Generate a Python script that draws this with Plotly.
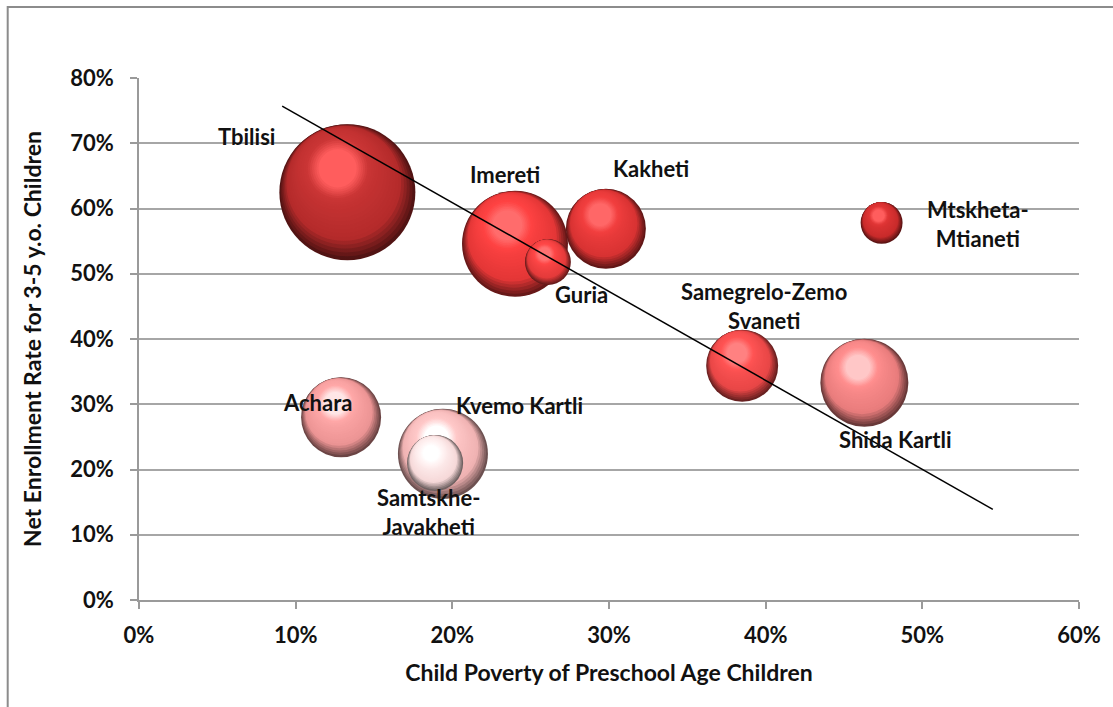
import math
import plotly.graph_objects as go

# Regional data: child poverty (x), net enrollment 3-5 y.o. (y), relative bubble size
regions = ["Tbilisi", "Imereti", "Kvemo Kartli", "Shida Kartli", "Kakheti",
           "Achara", "Samegrelo-Zemo<br>Svaneti", "Samtskhe-<br>Javakheti",
           "Guria", "Mtskheta-<br>Mtianeti"]
poverty = [0.133, 0.240, 0.194, 0.463, 0.298, 0.129, 0.385, 0.189, 0.261, 0.474]
enrollment = [0.625, 0.546, 0.224, 0.333, 0.569, 0.280, 0.359, 0.210, 0.518, 0.578]
bubble_size = [100, 60.7, 43.8, 41.9, 34.6, 34.6, 28.0, 17.0, 11.4, 9.5]

# Linear trend line end points
trend_x = [0.0914, 0.545]
trend_y = [0.757, 0.139]

# Base colour of each sphere
body_col = ["#b42a2a", "#e43636", "#f0b2b2", "#e87c7c", "#d83232",
            "#ec9494", "#e84646", "#f6d8d8", "#e43a3a", "#c82a2a"]

# Label offsets in pixels (x right, y up) from each bubble centre
label_shift = [(-101, 56), (-10, 69), (77, 48), (31, -57), (45, 60),
               (-24, 15), (22, 60), (-7, -49), (34, -32), (96, -1)]

W, H = 1113, 707
ML, MR, MT, MB = 139, 29, 78, 107
PW, PH = W - ML - MR, H - MT - MB
X_RANGE = (0, 0.6)
Y_RANGE = (0, 0.8)
MAX_D = 136
sizeref = 2 * max(bubble_size) / MAX_D ** 2

px_per_x = PW / (X_RANGE[1] - X_RANGE[0])
px_per_y = PH / (Y_RANGE[1] - Y_RANGE[0])


def hex_rgb(h):
    h = h.lstrip("#")
    return [int(h[i:i + 2], 16) for i in (0, 2, 4)]


def mix(a, b, f):
    return [a[i] + (b[i] - a[i]) * f for i in range(3)]


def brighten(c, gain, lift):
    return [min(255, v * gain + lift) for v in c]


def css(c):
    return "rgb(%d,%d,%d)" % tuple(max(0, min(255, round(v))) for v in c)


def shade_at(body, t):
    """Colour of a sphere shell at depth t (0 = rim, 1 = specular spot)."""
    dark = [v * 0.45 for v in body]
    lite = brighten(body, 1.08, 8)
    spot = brighten(body, 1.3, 38)
    stops = [(0.0, dark), (0.22, body), (0.75, lite), (1.0, spot)]
    for (t0, c0), (t1, c1) in zip(stops, stops[1:]):
        if t <= t1:
            return mix(c0, c1, (t - t0) / (t1 - t0))
    return spot


# Light comes from the upper left
LIGHT = (-0.38, 0.92)
N_SHELLS = 24

fig = go.Figure()

# Each sphere is built from nested shells that shrink toward the light source
for i in range(len(regions)):
    body = hex_rgb(body_col[i])
    r_px = math.sqrt(bubble_size[i] / (2 * sizeref))
    for k in range(N_SHELLS):
        t = k / (N_SHELLS - 1)
        t_next = min(1.0, (k + 1) / (N_SHELLS - 1))
        scale = 1 - 0.72 * t
        off = 0.38 * r_px * min(1.0, 1.7 * t)
        sx = poverty[i] + LIGHT[0] * off / px_per_x
        sy = enrollment[i] + LIGHT[1] * off / px_per_y
        fig.add_trace(go.Scatter(
            x=[sx], y=[sy], mode="markers",
            marker=dict(size=[bubble_size[i] * scale ** 2], sizemode="area",
                        sizeref=sizeref, opacity=1, line=dict(width=0),
                        color=css(shade_at(body, t)),
                        gradient=dict(type="radial",
                                      color=css(shade_at(body, t_next)))),
            hoverinfo="skip", showlegend=False))

# Trend line
fig.add_trace(go.Scatter(x=trend_x, y=trend_y, mode="lines",
                         line=dict(color="black", width=1.5),
                         hoverinfo="skip", showlegend=False))

label_font = dict(family="Lato", size=22, color="#111111")
for i, name in enumerate(regions):
    dx, dy = label_shift[i]
    fig.add_annotation(x=poverty[i], y=enrollment[i], text="<b>%s</b>" % name,
                       showarrow=False, xshift=dx, yshift=dy, font=label_font,
                       align="center")

# Outer chart frame
fig.add_shape(type="rect", xref="paper", yref="paper",
              x0=(7 - ML) / PW, x1=(W + 20 - ML) / PW,
              y0=-(H + 20 - MT - PH) / PH, y1=(H - 7 - MB) / PH,
              line=dict(color="#8c8c8c", width=2), fillcolor="rgba(0,0,0,0)",
              layer="below")

tick_font = dict(family="Lato", size=22, color="#111111")
title_font = dict(family="Lato", size=23, color="#111111")

fig.update_layout(
    width=W, height=H,
    margin=dict(l=ML, r=MR, t=MT, b=MB),
    paper_bgcolor="white", plot_bgcolor="white",
    font=dict(family="Lato"),
    xaxis=dict(range=X_RANGE, dtick=0.1, tickformat=".0%", showgrid=False,
               zeroline=False, showline=True, linecolor="#9a9a9a", linewidth=1.5,
               ticks="outside", ticklen=7, tickcolor="#9a9a9a", tickwidth=1.5,
               tickfont=tick_font, ticklabelstandoff=8,
               title=dict(text="<b>Child Poverty of Preschool Age Children</b>",
                          font=title_font, standoff=18)),
    yaxis=dict(range=Y_RANGE, dtick=0.1, tickformat=".0%", showgrid=True,
               gridcolor="#a6a6a6", gridwidth=1.5, zeroline=False,
               showline=True, linecolor="#9a9a9a", linewidth=1.5,
               ticks="outside", ticklen=7, tickcolor="#9a9a9a", tickwidth=1.5,
               tickfont=tick_font, ticklabelstandoff=12,
               title=dict(text="<b>Net Enrollment Rate for 3-5 y.o. Children</b>",
                          font=title_font, standoff=22)),
)

fig.update_xaxes(tickprefix="<b>", ticksuffix="</b>")
fig.update_yaxes(tickprefix="<b>", ticksuffix="</b>")

fig.write_html("out.html")
